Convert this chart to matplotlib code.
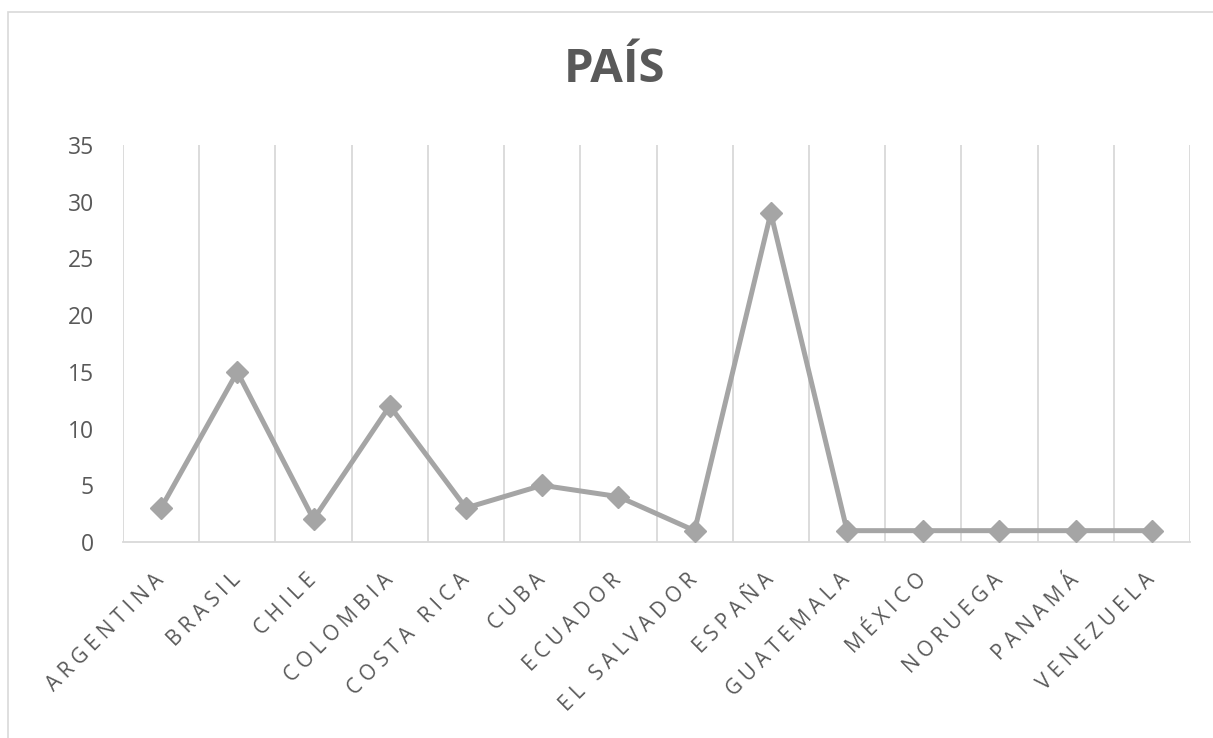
import matplotlib.pyplot as plt
from matplotlib.patches import Rectangle
import matplotlib.transforms as mtransforms

paises = ["ARGENTINA", "BRASIL", "CHILE", "COLOMBIA", "COSTA RICA", "CUBA",
          "ECUADOR", "EL SALVADOR", "ESPAÑA", "GUATEMALA", "MÉXICO",
          "NORUEGA", "PANAMÁ", "VENEZUELA"]
valores = [3, 15, 2, 12, 3, 5, 4, 1, 29, 1, 1, 1, 1, 1]
yticks = [0, 5, 10, 15, 20, 25, 30, 35]

plt.rcParams['font.family'] = ['Open Sans', 'DejaVu Sans']
gris_texto = "#595959"
gris_linea = "#A5A5A5"
gris_grid = "#D9D9D9"

def espaciar(texto):
    # Excel usa letras espaciadas en el eje de categorías
    palabras = ["\u2005".join(w) for w in texto.split(" ")]
    return "\u2005\u2005\u2005".join(palabras)

fig = plt.figure(figsize=(12.13, 7.38), dpi=100)
fig.patches.append(Rectangle((8 / 1213, -0.1), 1.2, 1 - 12 / 738 + 0.1,
                             transform=fig.transFigure, fill=False,
                             edgecolor=gris_grid, linewidth=1.2))

ax = fig.add_axes([123 / 1213, 1 - 542 / 738, (1190 - 123) / 1213, (542 - 145) / 738])
x = list(range(len(paises)))
ax.plot(x, valores, color=gris_linea, linewidth=3.6, marker="D",
        markersize=11, clip_on=False, zorder=3)

ax.set_xlim(-0.5, len(paises) - 0.5)
ax.set_ylim(0, 35)
ax.set_yticks(yticks)
ax.set_yticklabels([str(v) for v in yticks], fontsize=16.5, color=gris_texto)

ax.set_xticks(x)
ax.set_xticklabels([])
trans = ax.get_xaxis_transform() + mtransforms.ScaledTranslation(
    0 / 100, -35 / 100, fig.dpi_scale_trans)
for xi, p in zip(x, paises):
    ax.text(xi, 0, espaciar(p), transform=trans, fontsize=15, color=gris_texto,
            rotation=45, ha="right", va="center", rotation_mode="anchor")

for b in range(len(paises) + 1):
    ax.axvline(b - 0.5, color=gris_grid, linewidth=1.3, zorder=1)

for s in ["top", "right", "left"]:
    ax.spines[s].set_visible(False)
ax.spines["bottom"].set_color(gris_grid)
ax.spines["bottom"].set_linewidth(1.3)
ax.tick_params(axis="both", length=0)
ax.tick_params(axis="y", pad=21)

fig.text(615 / 1213, 1 - 70 / 738, "PAÍS", fontsize=34, fontweight="bold",
         color=gris_texto, ha="center", va="center")

fig.savefig("out.png", dpi=100)
